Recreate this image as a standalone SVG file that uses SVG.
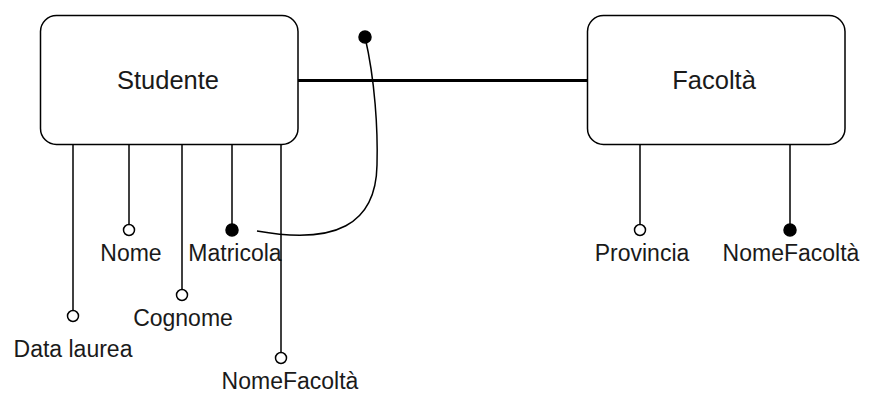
<svg xmlns="http://www.w3.org/2000/svg" width="880" height="410" viewBox="0 0 880 410">
<style>
.ent{fill:#fff;stroke:#000;stroke-width:1.5}
.en{font-family:"Liberation Sans",Arial,sans-serif;font-size:25.5px;fill:#1a1a1a;text-anchor:middle}
.lb{font-family:"Liberation Sans",Arial,sans-serif;font-size:23px;fill:#1a1a1a;text-anchor:middle}
.att{stroke:#000;stroke-width:1.5;fill:none}
.o{fill:#fff;stroke:#000;stroke-width:1.5}
.k{fill:#000;stroke:#000;stroke-width:1.5}
</style>
<rect width="880" height="410" fill="#fff"/>
<g id="connectors">
<line x1="298" y1="80.5" x2="588" y2="80.5" stroke="#000" stroke-width="3"/>
<path class="att" d="M365 37 C375 80 378 130 377 165 C376 225 335 245 257 231"/>
<circle class="k" cx="365" cy="37" r="6"/>
</g>
<g id="studente">
<rect class="ent" x="40.5" y="15.5" width="257.5" height="129" rx="16"/>
<text class="en" x="168" y="89">Studente</text>
</g>
<g id="facolta">
<rect class="ent" x="587.5" y="15.5" width="257.5" height="129" rx="16"/>
<text class="en" x="714" y="89">Facoltà</text>
</g>
<g id="attr-datalaurea">
<line class="att" x1="73" y1="145" x2="73" y2="310"/>
<circle class="o" cx="73" cy="316" r="5.5"/>
<text class="lb" x="73" y="357">Data laurea</text>
</g>
<g id="attr-nome">
<line class="att" x1="129" y1="145" x2="129" y2="224"/>
<circle class="o" cx="129" cy="230" r="5.5"/>
<text class="lb" x="131" y="261">Nome</text>
</g>
<g id="attr-cognome">
<line class="att" x1="182" y1="145" x2="182" y2="289"/>
<circle class="o" cx="182" cy="295" r="5.5"/>
<text class="lb" x="183" y="326">Cognome</text>
</g>
<g id="attr-matricola">
<line class="att" x1="232" y1="145" x2="232" y2="224"/>
<circle class="k" cx="232" cy="230" r="6"/>
<text class="lb" x="235" y="261">Matricola</text>
</g>
<g id="attr-nomefacolta-s">
<line class="att" x1="281" y1="145" x2="281" y2="352"/>
<circle class="o" cx="281" cy="358" r="5.5"/>
<text class="lb" x="290" y="389">NomeFacoltà</text>
</g>
<g id="attr-provincia">
<line class="att" x1="640" y1="145" x2="640" y2="224"/>
<circle class="o" cx="640" cy="230" r="5.5"/>
<text class="lb" x="642" y="261">Provincia</text>
</g>
<g id="attr-nomefacolta-f">
<line class="att" x1="790" y1="145" x2="790" y2="224"/>
<circle class="k" cx="790" cy="230" r="6"/>
<text class="lb" x="791" y="261">NomeFacoltà</text>
</g>
</svg>
